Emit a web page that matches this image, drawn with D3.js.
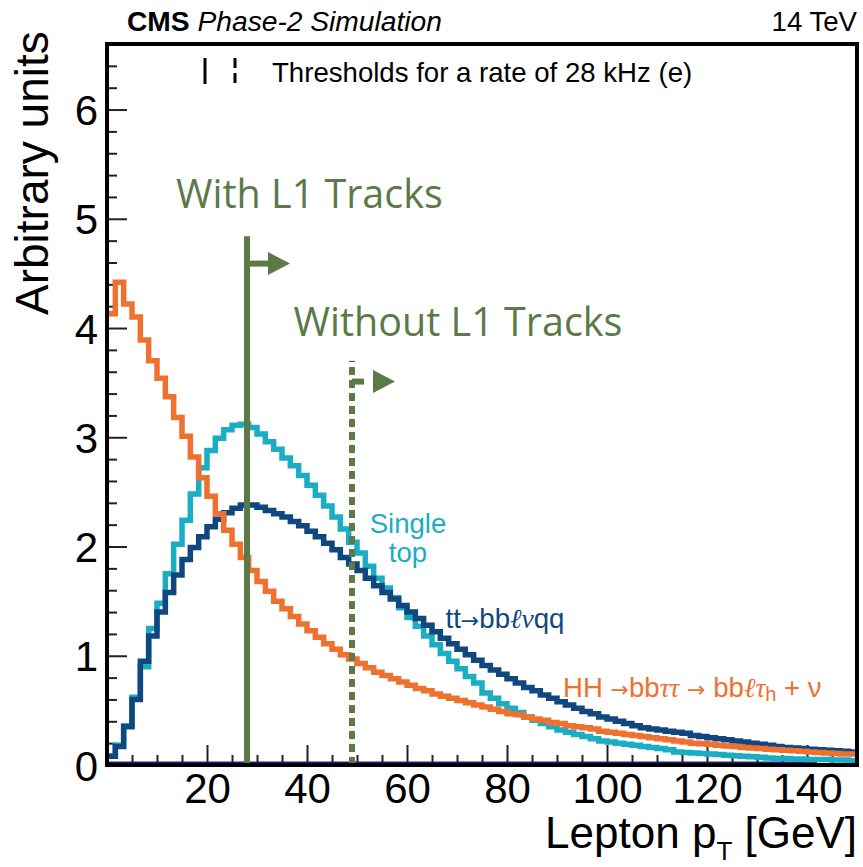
<!DOCTYPE html>
<html><head><meta charset="utf-8">
<script src="https://cdn.jsdelivr.net/npm/d3@7"></script>
<style>
html,body{margin:0;padding:0;background:#fff;}
svg{display:block;font-family:"Liberation Sans",Arial,Helvetica,sans-serif;}
</style>
</head><body>
<svg id="chart" width="863" height="867"></svg>
<script>
// ---------------- data ----------------
const xDomain = [0, 150];          // Lepton pT [GeV]
const yDomain = [0, 6.6];          // Arbitrary units
const nBins = 90;                  // bins of 150/90 GeV

// HH -> bbtautau -> bb l tau_h + nu  (orange)
const hhValues = [
  4.13,4.42,4.22,4.10,3.89,3.70,3.54,3.37,3.18,3.01,
  2.82,2.63,2.46,2.30,2.15,2.02,1.90,1.78,1.68,1.59,
  1.50,1.43,1.36,1.29,1.23,1.17,1.11,1.06,1.01,0.97,
  0.93,0.89,0.85,0.82,0.79,0.76,0.73,0.70,0.68,0.65,
  0.63,0.61,0.59,0.57,0.55,0.53,0.51,0.49,0.47,0.46,
  0.44,0.42,0.41,0.39,0.38,0.36,0.35,0.34,0.33,0.31,
  0.30,0.29,0.28,0.27,0.26,0.25,0.24,0.23,0.22,0.21,
  0.20,0.195,0.19,0.18,0.175,0.17,0.16,0.155,0.15,0.145,
  0.14,0.135,0.13,0.125,0.12,0.115,0.11,0.105,0.10,0.10
];
// Single top (cyan)
const singleTopValues = [
  0.08,0.18,0.36,0.62,0.90,1.25,1.48,1.75,2.02,2.24,
  2.48,2.72,2.88,2.99,3.07,3.11,3.12,3.09,3.03,2.96,
  2.89,2.81,2.74,2.65,2.56,2.47,2.37,2.27,2.16,2.04,
  1.94,1.82,1.71,1.62,1.53,1.44,1.35,1.27,1.18,1.10,
  1.02,0.95,0.88,0.81,0.75,0.66,0.61,0.56,0.52,0.48,
  0.44,0.41,0.38,0.35,0.32,0.30,0.28,0.26,0.24,0.22,
  0.21,0.20,0.19,0.18,0.17,0.16,0.15,0.14,0.12,0.115,
  0.11,0.105,0.10,0.095,0.09,0.085,0.08,0.075,0.07,0.065,
  0.06,0.06,0.055,0.055,0.05,0.05,0.05,0.045,0.045,0.04
];
// ttbar -> bb l nu qq (navy)
const ttValues = [
  0.08,0.17,0.35,0.60,0.95,1.18,1.40,1.58,1.74,1.88,
  1.99,2.09,2.18,2.25,2.31,2.35,2.38,2.38,2.36,2.33,
  2.30,2.27,2.23,2.19,2.14,2.09,2.03,1.97,1.90,1.84,
  1.78,1.71,1.64,1.58,1.52,1.46,1.40,1.34,1.28,1.22,
  1.16,1.11,1.06,1.01,0.96,0.91,0.87,0.83,0.79,0.75,
  0.71,0.68,0.64,0.61,0.58,0.55,0.52,0.49,0.47,0.44,
  0.42,0.40,0.38,0.36,0.34,0.33,0.32,0.31,0.30,0.29,
  0.27,0.26,0.25,0.24,0.23,0.22,0.21,0.20,0.19,0.18,
  0.17,0.16,0.155,0.15,0.145,0.14,0.135,0.13,0.125,0.12
];
const zeroLineRange = [0, 142];     // flat empty histogram drawn on the baseline

const xMajorTicks = [20, 40, 60, 80, 100, 120, 140];
const yMajorTicks = [0, 1, 2, 3, 4, 5, 6];
const xMinorStep = 5;
const yMinorStep = 0.2;

const thresholdCuts   = [28, 49];      // GeV
const thresholdTops   = [4.84, 3.70];  // top of the vertical line
const thresholdArrowY = [4.59, 3.51];  // height of the arrow
const thresholdDashed = [false, true];
const thresholdLabels = ["With L1 Tracks", "Without L1 Tracks"];

// ---------------- layout ----------------
const W = 863, H = 867;
const m = {left:107, right:6, top:44, bottom:102};
const iw = W - m.left - m.right, ih = H - m.top - m.bottom;

const svg = d3.select("#chart");
const g = svg.append("g").attr("transform", `translate(${m.left},${m.top})`);

const x = d3.scaleLinear().domain(xDomain).range([0, iw]);
const y = d3.scaleLinear().domain(yDomain).range([ih, 0]);

const cOrange = "#ef712f", cCyan = "#1aadc4", cNavy = "#11477f", cGreen = "#5b7a47";

svg.append("defs").append("clipPath").attr("id","plotclip")
  .append("rect").attr("x",0).attr("y",0).attr("width",iw).attr("height",ih);

// minor ticks
const xMinor = d3.range(xDomain[0] + xMinorStep, xDomain[1], xMinorStep).filter(v => !xMajorTicks.includes(v));
const yMinor = d3.range(0, yDomain[1] + 1e-9, yMinorStep).map(v => +v.toFixed(2)).filter(v => !yMajorTicks.includes(v));

const xMinorAxis = g.append("g").attr("transform", `translate(0,${ih})`)
  .call(d3.axisBottom(x).tickValues(xMinor).tickSize(-10).tickFormat(""));
const yMinorAxis = g.append("g")
  .call(d3.axisLeft(y).tickValues(yMinor).tickSize(-10).tickFormat(""));

const xAxis = g.append("g").attr("transform", `translate(0,${ih})`)
  .call(d3.axisBottom(x).tickValues(xMajorTicks).tickSize(-20).tickPadding(10).tickFormat(d3.format("d")));
const yAxis = g.append("g")
  .call(d3.axisLeft(y).tickValues(yMajorTicks).tickSize(-20).tickPadding(9).tickFormat(d3.format("d")));

[xMinorAxis, yMinorAxis, xAxis, yAxis].forEach(a => {
  a.select(".domain").remove();
  a.selectAll(".tick line").attr("stroke", "#222").attr("stroke-width", 2);
});
xAxis.selectAll(".tick text").attr("font-size", 42).attr("fill", "#000").attr("dy", "0.72em").attr("y", 8);
yAxis.selectAll(".tick text").attr("font-size", 42).attr("fill", "#000").attr("dy", "0.36em");

// histograms
function histPoints(vals) {
  const bw = (xDomain[1] - xDomain[0]) / nBins;
  const pts = [];
  vals.forEach((v, i) => {
    pts.push([x(xDomain[0] + i * bw), y(v)]);
    pts.push([x(xDomain[0] + (i + 1) * bw), y(v)]);
  });
  return pts;
}
const line = d3.line();
const plot = g.append("g").attr("clip-path", "url(#plotclip)");

plot.append("line")
  .attr("x1", x(zeroLineRange[0])).attr("x2", x(zeroLineRange[1]))
  .attr("y1", y(0) - 2).attr("y2", y(0) - 2)
  .attr("stroke", "#1f1f8a").attr("stroke-width", 3);

[[singleTopValues, cCyan], [ttValues, cNavy], [hhValues, cOrange]].forEach(([vals, col]) => {
  plot.append("path").attr("d", line(histPoints(vals)))
    .attr("fill", "none").attr("stroke", col).attr("stroke-width", 5.5)
    .attr("stroke-linejoin", "miter").attr("stroke-linecap", "butt");
});

// thresholds
thresholdCuts.forEach((cut, i) => {
  const xc = x(cut);
  const dashed = thresholdDashed[i];
  g.append("line")
    .attr("x1", xc).attr("x2", xc).attr("y1", y(0)).attr("y2", y(thresholdTops[i]))
    .attr("stroke", cGreen).attr("stroke-width", 6)
    .attr("stroke-dasharray", dashed ? "8,5" : null);
  const ya = y(thresholdArrowY[i]);
  g.append("line")
    .attr("x1", xc).attr("x2", xc + 21).attr("y1", ya).attr("y2", ya)
    .attr("stroke", cGreen).attr("stroke-width", 6)
    .attr("stroke-dasharray", dashed ? "12,9" : null);
  g.append("path")
    .attr("d", `M${xc + 21},${ya - 11.5}L${xc + 43},${ya}L${xc + 21},${ya + 11.5}Z`)
    .attr("fill", cGreen);
});

// frame
g.append("rect").attr("x", 0).attr("y", 0).attr("width", iw).attr("height", ih)
  .attr("fill", "none").attr("stroke", "#000").attr("stroke-width", 4);

// green labels
g.append("text").attr("x", x(13.8)).attr("y", y(5.1))
  .attr("font-family", "'Open Sans',sans-serif").attr("font-size", 39.5).attr("fill", cGreen)
  .text(thresholdLabels[0]);
g.append("text").attr("x", x(37.3)).attr("y", y(3.93))
  .attr("font-family", "'Open Sans',sans-serif").attr("font-size", 39.5).attr("fill", cGreen)
  .text(thresholdLabels[1]);

// process labels
const st = g.append("text").attr("font-size", 27.6).attr("fill", cCyan).attr("text-anchor", "middle");
st.append("tspan").attr("x", x(60.2)).attr("y", y(2.12)).text("Single");
st.append("tspan").attr("x", x(60.2)).attr("y", y(1.86)).text("top");

const tt = g.append("text").attr("x", x(67.7)).attr("y", y(1.25)).attr("font-size", 27.6).attr("fill", cNavy);
tt.append("tspan").text("tt");
tt.append("tspan").attr("font-family", "'DejaVu Sans',sans-serif").attr("font-size", 22).text("\u2192");
tt.append("tspan").text("bb");
tt.append("tspan").attr("font-family", "'Liberation Serif',serif").attr("font-style", "italic").text("\u2113\u03bd");
tt.append("tspan").text("qq");

const hh = g.append("text").attr("x", x(91.2)).attr("y", y(0.62)).attr("font-size", 27.6).attr("fill", cOrange);
hh.append("tspan").text("HH ");
hh.append("tspan").attr("font-family", "'DejaVu Sans',sans-serif").attr("font-size", 22).text("\u2192");
hh.append("tspan").text("bb");
hh.append("tspan").attr("font-family", "'Liberation Serif',serif").attr("font-style", "italic").text("\u03c4\u03c4");
hh.append("tspan").text(" ");
hh.append("tspan").attr("font-family", "'DejaVu Sans',sans-serif").attr("font-size", 22).text("\u2192");
hh.append("tspan").text(" bb");
hh.append("tspan").attr("font-family", "'Liberation Serif',serif").attr("font-style", "italic").text("\u2113\u03c4");
hh.append("tspan").attr("font-size", 20).attr("dy", 4).text("h");
hh.append("tspan").attr("dy", -4).text(" + \u03bd");

// legend for thresholds
svg.append("line").attr("x1", 205).attr("x2", 205).attr("y1", 58).attr("y2", 84)
  .attr("stroke", "#000").attr("stroke-width", 3);
svg.append("line").attr("x1", 235).attr("x2", 235).attr("y1", 58).attr("y2", 84)
  .attr("stroke", "#000").attr("stroke-width", 3).attr("stroke-dasharray", "10,5");
svg.append("text").attr("x", 272).attr("y", 82).attr("font-size", 27.6).attr("fill", "#000")
  .text("Thresholds for a rate of 28 kHz (e)");

// header
const hdr = svg.append("text").attr("x", 127).attr("y", 31).attr("font-size", 28.2).attr("fill", "#000");
hdr.append("tspan").attr("font-weight", "bold").text("CMS");
hdr.append("tspan").attr("font-style", "italic").text(" Phase-2 Simulation");
svg.append("text").attr("x", 857).attr("y", 31).attr("font-size", 27.6).attr("text-anchor", "end").text("14 TeV");

// axis titles
const xt = svg.append("text").attr("x", 857).attr("y", 848).attr("font-size", 44).attr("text-anchor", "end");
xt.append("tspan").text("Lepton p");
xt.append("tspan").attr("font-size", 26).attr("dy", 12).text("T");
xt.append("tspan").attr("dy", -12).text(" [GeV]");

svg.append("text").attr("transform", "translate(48,315) rotate(-90)")
  .attr("font-size", 46).attr("text-anchor", "start").text("Arbitrary units");
</script>
</body></html>
